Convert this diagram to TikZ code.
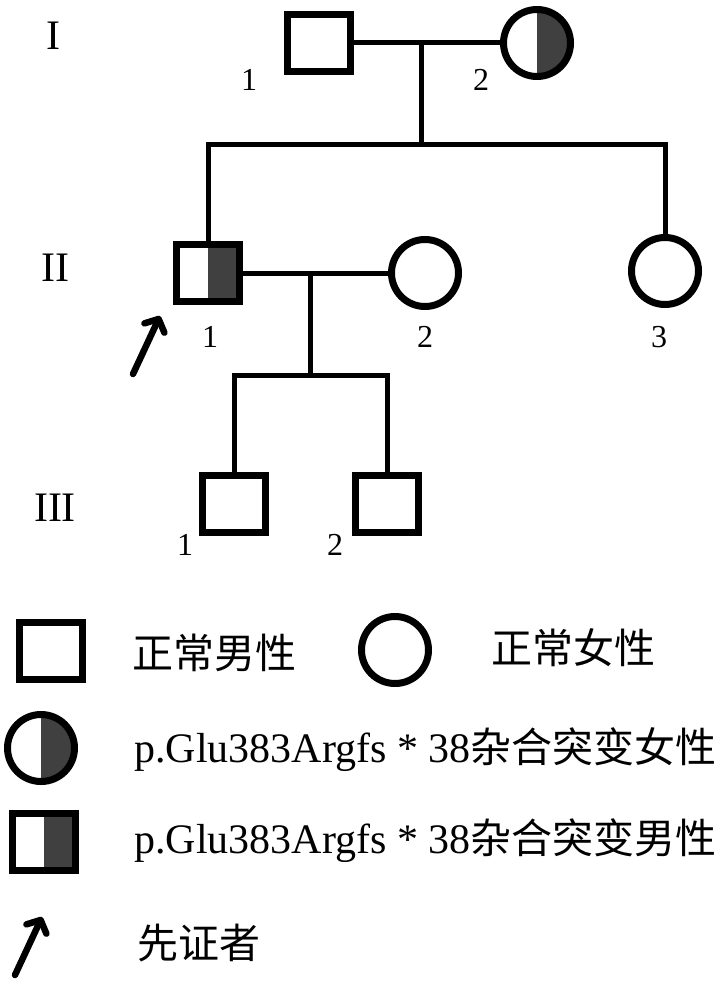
\documentclass[tikz,border=0pt]{standalone}
\usepackage{fontspec}
\setmainfont{Liberation Serif}
\newfontfamily\cjk{Noto Sans CJK SC}
\usetikzlibrary{arrows.meta}
\definecolor{darkfill}{HTML}{404040}
\begin{document}
\begin{tikzpicture}[x=1pt,y=-1pt,
  male/.style={draw, line width=7.5pt, rectangle, minimum width=63pt, minimum height=57pt, inner sep=0pt, fill=white},
  female/.style={draw, line width=7pt, circle, minimum size=67pt, inner sep=0pt, fill=white},
  carrier/.style={path picture={\fill[darkfill] (path picture bounding box.north) rectangle (path picture bounding box.south east);}},
  conn/.style={line width=5pt, line join=miter},
  num/.style={font=\fontsize{32}{32}\selectfont, inner sep=0pt},
  gen/.style={font=\fontsize{42}{42}\selectfont, inner sep=0pt},
  legtext/.style={anchor=base west, inner sep=0pt, font=\fontsize{41}{41}\selectfont\cjk},
  probarrow/.style={line width=6.5pt, line cap=round, -{Straight Barb[length=10pt,width=22pt,round]}}
]
\useasboundingbox[fill=white] (0,0) rectangle (726,984);

% generation labels
\node[gen] (gI) at (53,36) {I};
\node[gen] (gII) at (55,268) {II};
\node[gen] (gIII) at (55,508) {III};

% generation I
\node[male] (I1) at (319,43) {};
\node[female, carrier] (I2) at (537,43) {};
\coordinate (m1) at (421,43);
\coordinate (s1) at (421,145);
\coordinate (s1L) at (208,145);
\coordinate (s1R) at (665,145);

% generation II
\node[male, carrier] (II1) at (208,273) {};
\node[female] (II2) at (425,273) {};
\node[female] (II3) at (665,271) {};
\coordinate (m2) at (310,273);
\coordinate (s2) at (310,375);
\coordinate (s2L) at (234,375);
\coordinate (s2R) at (387,375);

% generation III
\node[male] (III1) at (234,504) {};
\node[male] (III2) at (387,504) {};

% connectors
\draw[conn] (I1.east) -- (I2.west);
\draw[conn] (m1) -- (s1);
\draw[conn] (II1.north) -- (s1L) -- (s1R) -- (II3.north);
\draw[conn] (II1.east) -- (II2.west);
\draw[conn] (m2) -- (s2);
\draw[conn] (III1.north) -- (s2L) -- (s2R) -- (III2.north);

% individual numbers
\node[num] (nI1) at (249,80) {1};
\node[num] (nI2) at (481,80) {2};
\node[num] (nII1) at (210,337) {1};
\node[num] (nII2) at (425,337) {2};
\node[num] (nII3) at (659,337) {3};
\node[num] (nIII1) at (185,545) {1};
\node[num] (nIII2) at (335,545) {2};

% proband arrow
\coordinate (PAs) at (133,374);
\coordinate (PAe) at (160,316);
\draw[probarrow] (PAs) -- (PAe);

% legend
\node[male] (LM) at (51,651) {};
\node[legtext] (LMt) at (132,668) {正常男性};
\node[female] (LF) at (395,650) {};
\node[legtext] (LFt) at (491,663) {正常女性};
\node[female, carrier] (LC) at (41,748) {};
\node[legtext] (LCt) at (134,762) {{\rmfamily\fontsize{42}{42}\selectfont p.Glu383Argfs * 38}杂合突变女性};
\node[male, carrier] (LS) at (44,842) {};
\node[legtext] (LSt) at (134,853) {{\rmfamily\fontsize{42}{42}\selectfont p.Glu383Argfs * 38}杂合突变男性};
\coordinate (LAs) at (15,975);
\coordinate (LAe) at (42,917);
\draw[probarrow] (LAs) -- (LAe);
\node[legtext] (LAt) at (137,958) {先证者};
\end{tikzpicture}
\end{document}
